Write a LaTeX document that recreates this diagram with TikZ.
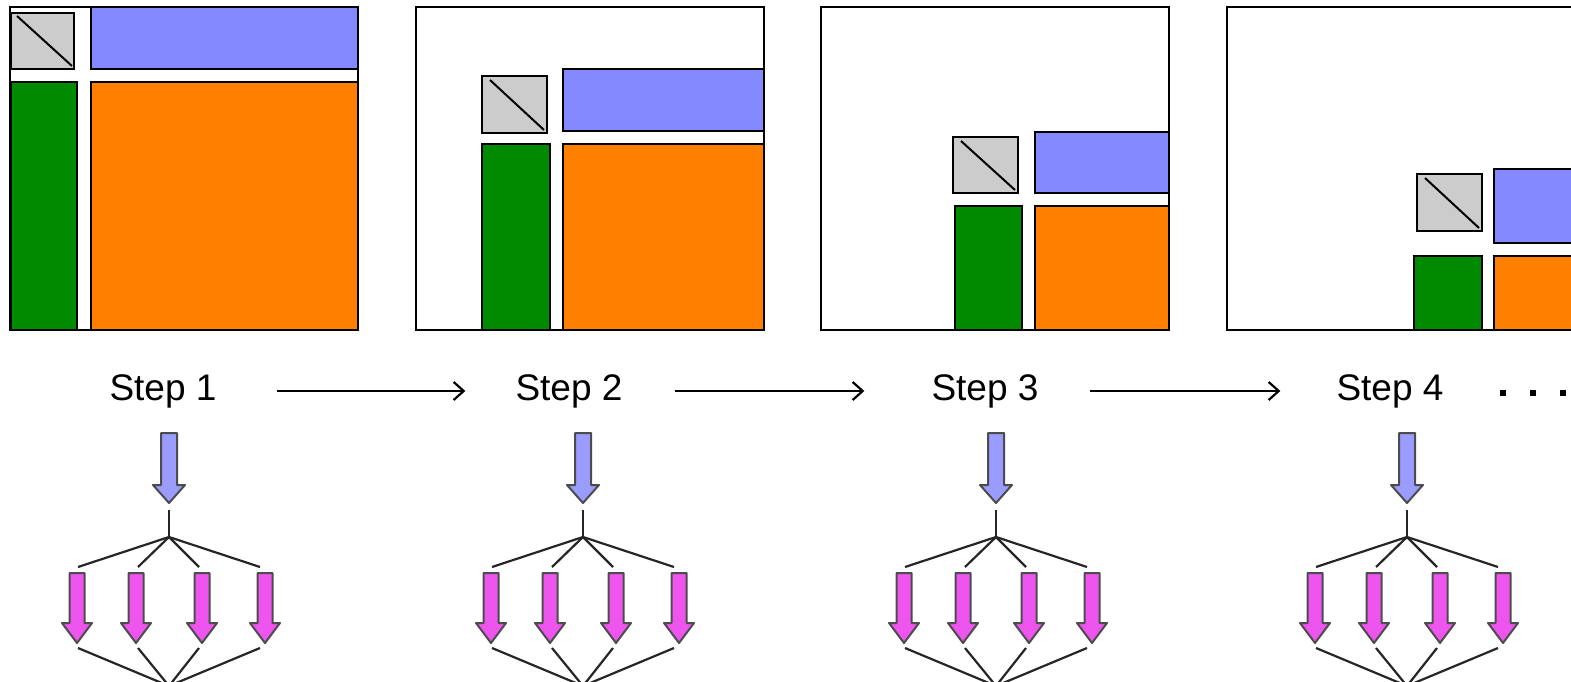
\documentclass[tikz,border=0pt]{standalone}
\usepackage{fontspec}
\setmainfont{Liberation Sans}
\usetikzlibrary{arrows.meta}

\definecolor{blockblue}{HTML}{8489FF}
\definecolor{blockorange}{HTML}{FF7F00}
\definecolor{blockgreen}{HTML}{008A00}
\definecolor{blockgray}{HTML}{CCCCCC}
\definecolor{arrowblue}{HTML}{9A9CFF}
\definecolor{arrowpink}{HTML}{EE55EE}

% fat downward arrow: style, x, top, head start, tip, half shaft, half head
\newcommand{\fatarrow}[7]{%
  \draw[#1] (#2-#6,#3) -- (#2+#6,#3) -- (#2+#6,#4) -- (#2+#7,#4) -- (#2,#5)
    -- (#2-#7,#4) -- (#2-#6,#4) -- cycle;}

\begin{document}
\begin{tikzpicture}[x=1pt, y=-1pt,
    frame/.style={draw=black, line width=2.2pt},
    block/.style={draw=black, line width=2.2pt},
    steplabel/.style={font=\fontsize{37}{40}\selectfont, inner sep=3pt},
    steparrow/.style={-{Straight Barb[length=10pt, width=18pt]}, line width=2.2pt},
    inarrow/.style={fill=arrowblue, draw=black!70, line width=2pt, line join=round},
    outarrow/.style={fill=arrowpink, draw=black!70, line width=2pt, line join=round},
    fan/.style={draw=black!85, line width=2.2pt}]
    \useasboundingbox (0,0) rectangle (1571,682);
    \clip (0,0) rectangle (1571,682);

    % draw the blocks of step 1
    \draw[frame] (10,7) rectangle (358,330);
    \draw[block, fill=blockgray] (11,13) rectangle (74,69);
    \draw[line width=2pt] (17,16) -- (72,66);
    \draw[block, fill=blockblue] (91,7) rectangle (358,69);
    \draw[block, fill=blockgreen] (11,82) rectangle (77,330);
    \draw[block, fill=blockorange] (91,82) rectangle (358,330);

    % draw the blocks of step 2
    \draw[frame] (416,7) rectangle (764,330);
    \draw[block, fill=blockgray] (482,76) rectangle (547,133);
    \draw[line width=2pt] (490,80) -- (544,130);
    \draw[block, fill=blockblue] (563,69) rectangle (764,131);
    \draw[block, fill=blockgreen] (482,144) rectangle (550,330);
    \draw[block, fill=blockorange] (563,144) rectangle (764,330);

    % draw the blocks of step 3
    \draw[frame] (821,7) rectangle (1169,330);
    \draw[block, fill=blockgray] (953,137) rectangle (1018,193);
    \draw[line width=2pt] (961,141) -- (1015,190);
    \draw[block, fill=blockblue] (1035,132) rectangle (1169,193);
    \draw[block, fill=blockgreen] (955,206) rectangle (1022,330);
    \draw[block, fill=blockorange] (1035,206) rectangle (1169,330);

    % draw the blocks of step 4
    \draw[frame] (1227,7) rectangle (1575,330);
    \draw[block, fill=blockgray] (1417,174) rectangle (1482,231);
    \draw[line width=2pt] (1425,178) -- (1479,228);
    \draw[block, fill=blockblue] (1494,169) rectangle (1575,243);
    \draw[block, fill=blockgreen] (1414,256) rectangle (1482,330);
    \draw[block, fill=blockorange] (1494,256) rectangle (1575,330);

    % draw the step labels
    \node[steplabel] (s1) at (163,391) {Step 1};
    \node[steplabel] (s2) at (569,391) {Step 2};
    \node[steplabel] (s3) at (985,391) {Step 3};
    \node[steplabel] (s4) at (1390,391) {Step 4};

    % draw the arrows between the steps
    \draw[steparrow, shorten <=57pt, shorten >=47pt] (s1.east) -- (s2.west);
    \draw[steparrow, shorten <=49pt, shorten >=64pt] (s2.east) -- (s3.west);
    \draw[steparrow, shorten <=48pt, shorten >=53pt] (s3.east) -- (s4.west);

    % draw the dots
    \foreach \dx in {1503,1533,1563}
        \fill (\dx-3,390) rectangle (\dx+3,396);

    % draw the fan out and fan in below each step
    \foreach \cx/\n in {169/1,583/2,996/3,1407/4} {
        \fatarrow{inarrow}{\cx}{433}{485}{503}{8}{16}
        \coordinate (in\n) at (\cx,510);
        \coordinate (fork\n) at (\cx,537);
        \coordinate (join\n) at (\cx,686);
        \draw[fan] (in\n) -- (fork\n);
        \foreach \dx/\lx [count=\k] in {-92/-91,-33/-31,33/30,96/91} {
            \fatarrow{outarrow}{\cx+\dx}{573}{623}{643}{7.5}{15}
            \coordinate (top\n\k) at (\cx+\lx,567);
            \coordinate (tip\n\k) at (\cx+\lx,648);
            \draw[fan] (fork\n) -- (top\n\k);
            \draw[fan] (tip\n\k) -- (join\n);
        }
    }
\end{tikzpicture}
\end{document}
